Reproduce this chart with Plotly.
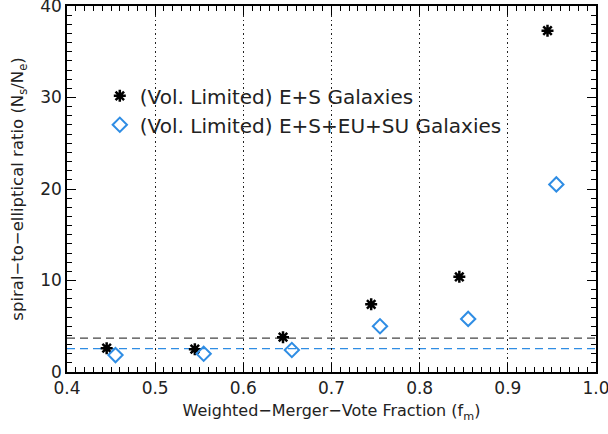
import plotly.graph_objects as go

# Data
es_x = [0.445, 0.545, 0.645, 0.745, 0.845, 0.945]
es_y = [2.6, 2.5, 3.8, 7.4, 10.4, 37.3]
all_x = [0.455, 0.555, 0.655, 0.755, 0.855, 0.955]
all_y = [1.85, 2.0, 2.4, 5.0, 5.8, 20.5]
es_ref = 3.7     # black dashed reference level
all_ref = 2.55   # blue dashed reference level

x_range = [0.4, 1.0]
y_range = [0, 40]

names = ["(Vol. Limited) E+S Galaxies", "(Vol. Limited) E+S+EU+SU Galaxies"]
BLUE = "#2f8de4"
FONT = "DejaVu Sans"

fig = go.Figure()
fig.add_trace(go.Scatter(
    x=es_x, y=es_y, mode="markers", name=names[0],
    marker=dict(symbol="asterisk-open", size=10, color="black",
                line=dict(color="black", width=2.5))))
fig.add_trace(go.Scatter(
    x=all_x, y=all_y, mode="markers", name=names[1],
    marker=dict(symbol="diamond-open", size=11, color=BLUE,
                line=dict(color=BLUE, width=2))))

fig.add_shape(type="line", xref="paper", x0=0, x1=1, yref="y", y0=es_ref, y1=es_ref,
              line=dict(color="#444444", width=1.3, dash="8px,5px"), layer="below")
fig.add_shape(type="line", xref="paper", x0=0, x1=1, yref="y", y0=all_ref, y1=all_ref,
              line=dict(color=BLUE, width=1.3, dash="8px,5px"), layer="below")

axis_common = dict(showline=True, linecolor="black", linewidth=1.5, mirror="allticks",
                   ticks="inside", ticklen=9, tickwidth=1.2, tickcolor="black",
                   zeroline=False, automargin=False, ticklabeloverflow="allow",
                   tickfont=dict(family=FONT, size=17, color="#222"))

fig.update_xaxes(range=x_range, tickmode="linear", tick0=0.4, dtick=0.1, tickformat=".1f",
                 showgrid=True, gridcolor="#222222", griddash="1.5px,3px", gridwidth=1.2,
                 minor=dict(dtick=0.01, ticks="inside", ticklen=5, tickwidth=1,
                            tickcolor="black", showgrid=False),
                 title=dict(text="Weighted−Merger−Vote Fraction (f<sub>m</sub>)",
                            font=dict(family=FONT, size=16, color="#222"), standoff=8),
                 **axis_common)
fig.update_yaxes(range=y_range, tickmode="linear", tick0=0, dtick=10, showgrid=False,
                 minor=dict(dtick=1, ticks="inside", ticklen=5, tickwidth=1,
                            tickcolor="black", showgrid=False),
                 title=dict(text="spiral−to−elliptical ratio (N<sub>s</sub>/N<sub>e</sub>)",
                            font=dict(family=FONT, size=16.5, color="#222"), standoff=12),
                 **axis_common)

fig.update_layout(
    width=608, height=434,
    margin=dict(l=67, r=12, t=6, b=62),
    paper_bgcolor="white", plot_bgcolor="white",
    showlegend=True,
    legend=dict(x=0.062, y=0.808, xanchor="left", yanchor="top",
                bgcolor="rgba(0,0,0,0)", borderwidth=0,
                font=dict(family=FONT, size=20, color="#222"),
                itemwidth=30, tracegroupgap=0),
)

fig.write_html("out.html", config={"displayModeBar": False},
               post_script="document.body.style.margin='0';")
